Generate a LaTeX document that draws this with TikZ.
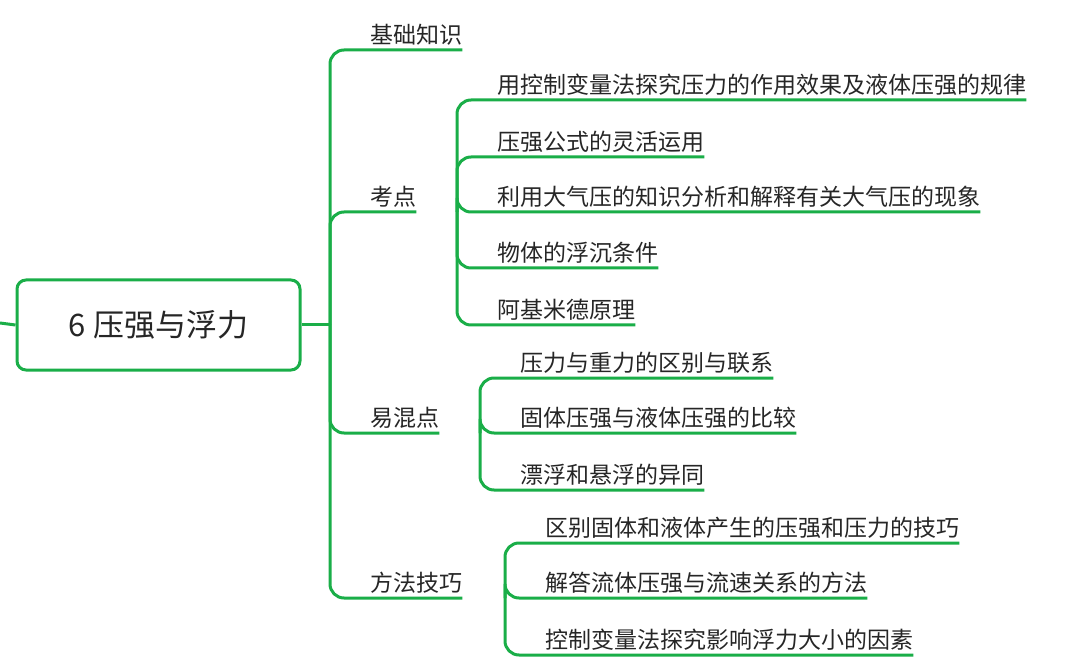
\documentclass[tikz,border=0pt]{standalone}
\usepackage{fontspec}
\setmainfont{Noto Sans CJK SC}
\definecolor{mapgreen}{RGB}{26,174,72}
\tikzset{
  link/.style={draw=mapgreen, line width=3pt, rounded corners=14pt},
  leaf/.style={anchor=south west, inner xsep=0pt, inner ysep=4pt,
    font=\fontsize{23}{26}\selectfont, text=black!85},
  rootbox/.style={draw=mapgreen, line width=3pt, rounded corners=9pt,
    minimum width=283pt, minimum height=90pt, font=\fontsize{31}{36}\selectfont, text=black!85}
}
\begin{document}
\begin{tikzpicture}[x=1pt, y=-1pt]
  \useasboundingbox (0,0) rectangle (1080,671);
  % root
  \node[rootbox] (root) at (158.5,325) {6 压强与浮力};
  \coordinate (stub) at (0,323);
  \draw[link] (stub) -- (root.west);
  \coordinate (trunk) at (330,325);
  \draw[link] (root.east) -- (trunk);
  % main branches
  \node[leaf] (jc) at (370,50) {基础知识\hspace{13pt}};
  \node[leaf] (kd) at (370,212) {考点\hspace{40pt}};
  \node[leaf] (yh) at (370,433) {易混点\hspace{40pt}};
  \node[leaf] (ff) at (370,598) {方法技巧\hspace{43pt}};
  \foreach \b in {jc,kd,yh,ff}
    \draw[link] (trunk) |- (\b.south west) -- (\b.south east);
  \draw[link] (330,325) -- (trunk);
  % kaodian
  \coordinate (kdfork) at (457,212);
  \node[leaf] (k1) at (497,100) {用控制变量法探究压力的作用效果及液体压强的规律\hspace{10pt}};
  \node[leaf] (k2) at (497,157) {压强公式的灵活运用\hspace{12pt}};
  \node[leaf] (k3) at (497,212) {利用大气压的知识分析和解释有关大气压的现象\hspace{12pt}};
  \node[leaf] (k4) at (497,268) {物体的浮沉条件\hspace{12pt}};
  \node[leaf] (k5) at (497,325) {阿基米德原理\hspace{12pt}};
  \foreach \c in {k1,k2,k3,k4,k5}
    \draw[link] (kdfork) |- (\c.south west) -- (\c.south east);
  % yihundian
  \coordinate (yhfork) at (480,433);
  \node[leaf] (y1) at (520,378) {压力与重力的区别与联系\hspace{12pt}};
  \node[leaf] (y2) at (520,433) {固体压强与液体压强的比较\hspace{12pt}};
  \node[leaf] (y3) at (520,490) {漂浮和悬浮的异同\hspace{12pt}};
  \foreach \c in {y1,y2,y3}
    \draw[link] (yhfork) |- (\c.south west) -- (\c.south east);
  % fangfa
  \coordinate (fffork) at (505,598);
  \node[leaf] (f1) at (545,543) {区别固体和液体产生的压强和压力的技巧\hspace{12pt}};
  \node[leaf] (f2) at (545,598) {解答流体压强与流速关系的方法\hspace{12pt}};
  \node[leaf] (f3) at (545,655) {控制变量法探究影响浮力大小的因素\hspace{12pt}};
  \foreach \c in {f1,f2,f3}
    \draw[link] (fffork) |- (\c.south west) -- (\c.south east);
\end{tikzpicture}
\end{document}
